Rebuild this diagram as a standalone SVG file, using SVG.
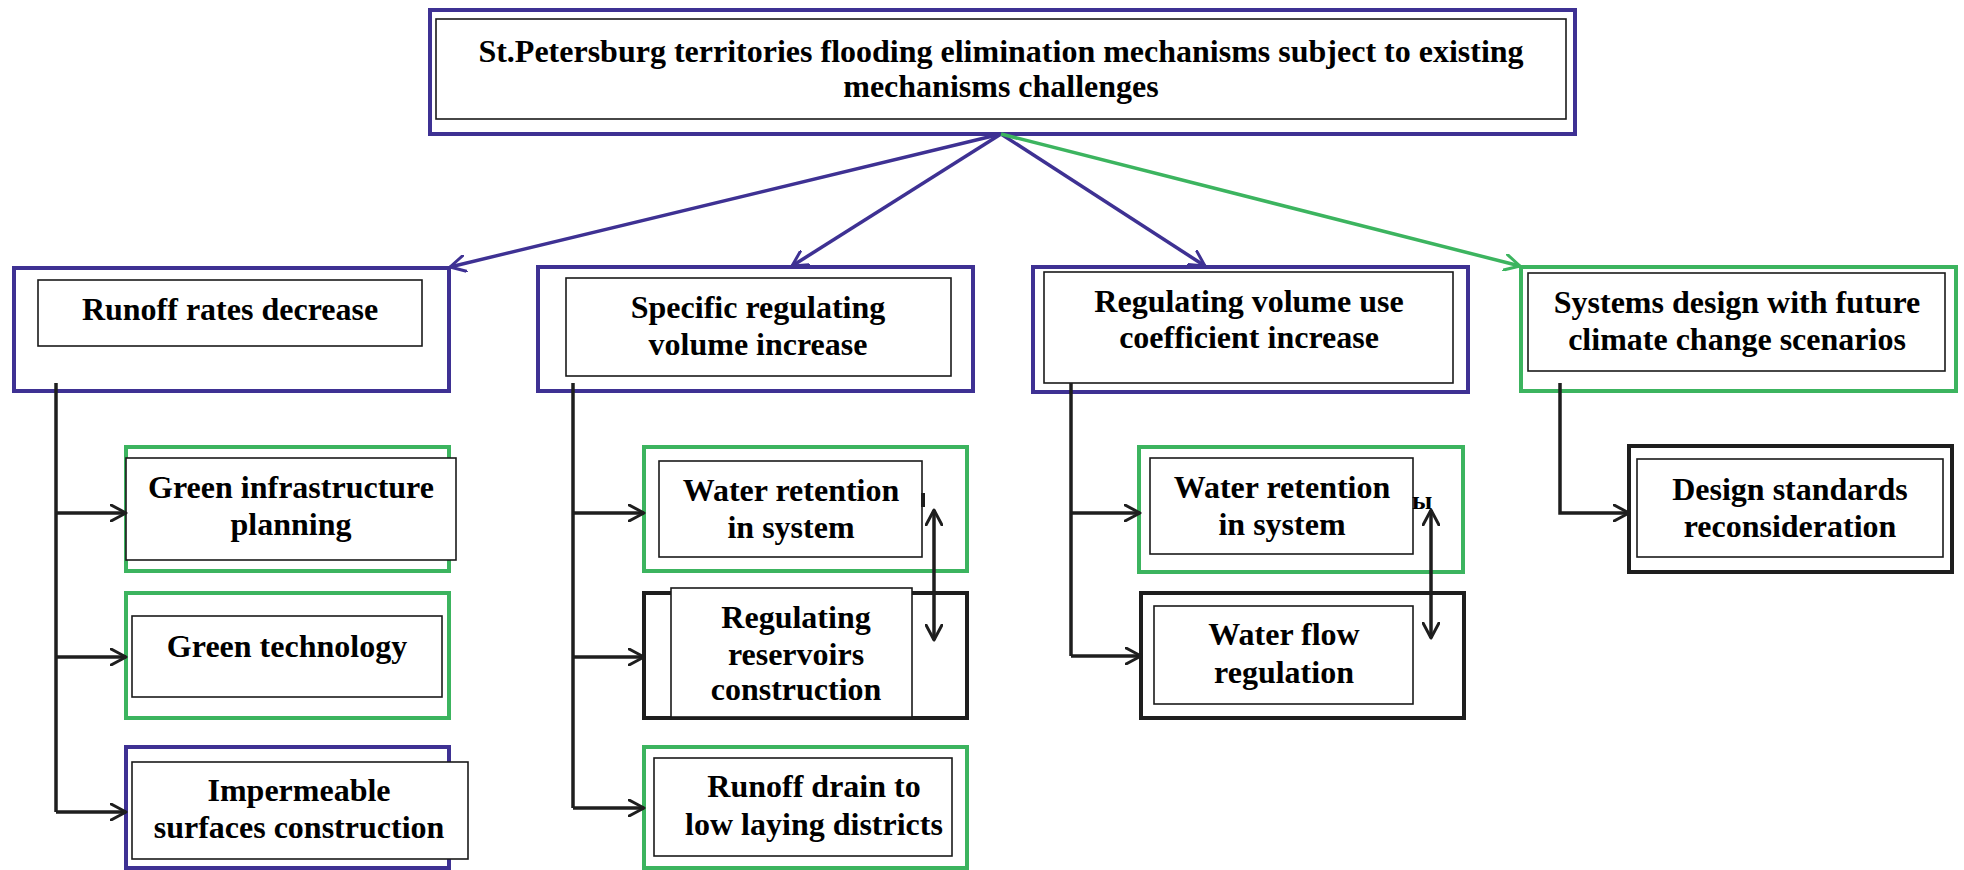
<svg xmlns="http://www.w3.org/2000/svg" width="1964" height="870" viewBox="0 0 1964 870">
<style>
.op{fill:#fff;stroke:#3e3193;stroke-width:4}
.og{fill:#fff;stroke:#3cb45f;stroke-width:4}
.ob{fill:#fff;stroke:#1e1e1e;stroke-width:4}
.in{fill:#fff;stroke:#1a1a1a;stroke-width:1.6}
.t{font-family:"Liberation Serif","Times New Roman",serif;font-weight:bold;font-size:32px;fill:#000;text-anchor:middle}
.cp{fill:none;stroke:#3e3193;stroke-width:3.5}
.cg{fill:none;stroke:#3cb45f;stroke-width:3.5}
.cb{fill:none;stroke:#1e1e1e;stroke-width:3.5}
</style>
<defs>
<marker id="ap" viewBox="0 0 18 18" refX="16" refY="9" markerWidth="18" markerHeight="18" markerUnits="userSpaceOnUse" orient="auto-start-reverse"><path d="M1,1 L16,9 L1,17" fill="none" stroke="#3e3193" stroke-width="3" stroke-linecap="round" stroke-linejoin="round"/></marker>
<marker id="ag" viewBox="0 0 18 18" refX="16" refY="9" markerWidth="18" markerHeight="18" markerUnits="userSpaceOnUse" orient="auto-start-reverse"><path d="M1,1 L16,9 L1,17" fill="none" stroke="#3cb45f" stroke-width="3" stroke-linecap="round" stroke-linejoin="round"/></marker>
<marker id="ab" viewBox="0 0 18 18" refX="16" refY="9" markerWidth="18" markerHeight="18" markerUnits="userSpaceOnUse" orient="auto-start-reverse"><path d="M1,1 L16,9 L1,17" fill="none" stroke="#1e1e1e" stroke-width="3" stroke-linecap="round" stroke-linejoin="round"/></marker>
</defs>
<rect width="1964" height="870" fill="#fff"/>

<g id="root">
<rect class="op" x="430" y="10" width="1145" height="124"/>
<rect class="in" x="436" y="19" width="1130" height="100"/>
<text class="t" x="1001" y="62">St.Petersburg territories flooding elimination mechanisms subject to existing</text>
<text class="t" x="1001" y="97">mechanisms challenges</text>
</g>

<g id="runoff-rates">
<rect class="op" x="14" y="268" width="435" height="123"/>
<rect class="in" x="38" y="280" width="384" height="66"/>
<text class="t" x="230" y="320">Runoff rates decrease</text>
</g>
<g id="green-infra">
<rect class="og" x="126" y="447" width="323" height="124"/>
<rect class="in" x="126" y="458" width="330" height="102"/>
<text class="t" x="291" y="498">Green infrastructure</text>
<text class="t" x="291" y="535">planning</text>
</g>
<g id="green-tech">
<rect class="og" x="126" y="593" width="323" height="125"/>
<rect class="in" x="132" y="616" width="310" height="81"/>
<text class="t" x="287" y="657">Green technology</text>
</g>
<g id="impermeable">
<rect class="op" x="126" y="747" width="323" height="121"/>
<rect class="in" x="132" y="762" width="336" height="97"/>
<text class="t" x="299" y="801">Impermeable</text>
<text class="t" x="299" y="838">surfaces construction</text>
</g>

<g id="specific-volume">
<rect class="op" x="538" y="267" width="435" height="124"/>
<rect class="in" x="566" y="278" width="385" height="98"/>
<text class="t" x="758" y="318">Specific regulating</text>
<text class="t" x="758" y="355">volume increase</text>
</g>
<g id="water-retention-1">
<rect class="og" x="644" y="447" width="323" height="124"/>
<rect class="in" x="659" y="461" width="263" height="96"/>
<text class="t" x="791" y="501">Water retention</text>
<text class="t" x="791" y="538">in system</text>
<rect x="921" y="493" width="4" height="14" fill="#1e1e1e"/>
</g>
<g id="reservoirs">
<rect class="ob" x="644" y="593" width="323" height="125"/>
<rect class="in" x="671" y="588" width="241" height="129"/>
<text class="t" x="796" y="628">Regulating</text>
<text class="t" x="796" y="665">reservoirs</text>
<text class="t" x="796" y="700">construction</text>
</g>
<g id="runoff-drain">
<rect class="og" x="644" y="747" width="323" height="121"/>
<rect class="in" x="654" y="758" width="298" height="98"/>
<text class="t" x="814" y="797">Runoff drain to</text>
<text class="t" x="814" y="835">low laying districts</text>
</g>

<g id="volume-use">
<rect class="op" x="1033" y="267" width="435" height="125"/>
<rect class="in" x="1044" y="272" width="409" height="111"/>
<text class="t" x="1249" y="312">Regulating volume use</text>
<text class="t" x="1249" y="348">coefficient increase</text>
</g>
<g id="water-retention-2">
<rect class="og" x="1139" y="447" width="324" height="125"/>
<rect class="in" x="1150" y="458" width="263" height="96"/>
<text class="t" x="1282" y="498">Water retention</text>
<text class="t" x="1282" y="535">in system</text>
<text x="1412" y="509" style="font-family:'Liberation Serif',serif;font-weight:bold;font-size:26px">ы</text>
</g>
<g id="water-flow">
<rect class="ob" x="1141" y="593" width="323" height="125"/>
<rect class="in" x="1154" y="606" width="259" height="98"/>
<text class="t" x="1284" y="645">Water flow</text>
<text class="t" x="1284" y="683">regulation</text>
</g>

<g id="systems-design">
<rect class="og" x="1521" y="267" width="435" height="124"/>
<rect class="in" x="1528" y="273" width="417" height="98"/>
<text class="t" x="1737" y="313">Systems design with future</text>
<text class="t" x="1737" y="350">climate change scenarios</text>
</g>
<g id="design-standards">
<rect class="ob" x="1629" y="446" width="323" height="126"/>
<rect class="in" x="1637" y="459" width="306" height="98"/>
<text class="t" x="1790" y="500">Design standards</text>
<text class="t" x="1790" y="537">reconsideration</text>
</g>

<g id="connectors">
<line class="cp" x1="1001" y1="134" x2="450" y2="267" marker-end="url(#ap)"/>
<line class="cp" x1="1001" y1="134" x2="792" y2="266" marker-end="url(#ap)"/>
<line class="cp" x1="1001" y1="134" x2="1205" y2="266" marker-end="url(#ap)"/>
<line class="cg" x1="1001" y1="134" x2="1520" y2="266" marker-end="url(#ag)"/>

<path class="cb" d="M56,383 V812"/>
<path class="cb" d="M56,513 H126" marker-end="url(#ab)"/>
<path class="cb" d="M56,657 H126" marker-end="url(#ab)"/>
<path class="cb" d="M56,812 H126" marker-end="url(#ab)"/>

<path class="cb" d="M573,383 V808"/>
<path class="cb" d="M573,513 H644" marker-end="url(#ab)"/>
<path class="cb" d="M573,657 H644" marker-end="url(#ab)"/>
<path class="cb" d="M573,808 H644" marker-end="url(#ab)"/>
<path class="cb" d="M934,510 V640" marker-start="url(#ab)" marker-end="url(#ab)"/>

<path class="cb" d="M1071,383 V656"/>
<path class="cb" d="M1071,513 H1140" marker-end="url(#ab)"/>
<path class="cb" d="M1071,656 H1141" marker-end="url(#ab)"/>
<path class="cb" d="M1431,510 V638" marker-start="url(#ab)" marker-end="url(#ab)"/>

<path class="cb" d="M1560,383 V513 H1629" marker-end="url(#ab)"/>
</g>
</svg>
